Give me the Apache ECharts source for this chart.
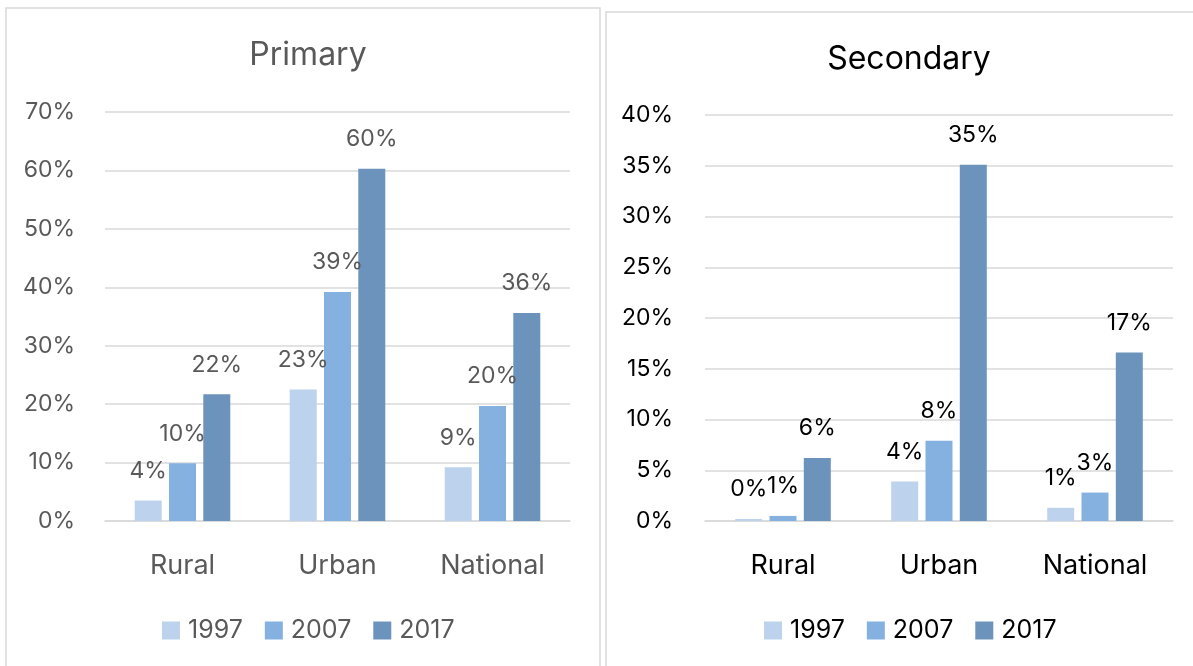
<!DOCTYPE html>
<html>
<head>
<meta charset="utf-8">
<script src="https://cdn.jsdelivr.net/npm/echarts@6/dist/echarts.min.js"></script>
<style>
html,body{margin:0;padding:0;background:#fff;}
#c{width:1193px;height:666px;}
</style>
</head>
<body>
<div id="c"></div>
<script>
var categories = ['Rural', 'Urban', 'National'];
var years = ['1997', '2007', '2017'];
var primary1997 = [3.5, 22.5, 9.2];
var primary2007 = [9.9, 39.2, 19.7];
var primary2017 = [21.7, 60.3, 35.6];
var secondary1997 = [0.2, 3.9, 1.3];
var secondary2007 = [0.5, 7.9, 2.8];
var secondary2017 = [6.2, 35.1, 16.6];
var colors = ['#bdd2ec', '#85b1e1', '#6c93bb'];

var FONT = 'Inter';
var greyText = '#595959';
var blackText = '#000000';

function mkSeries(name, data, idx, textColor) {
  return {
    type: 'bar', name: name, data: data,
    xAxisIndex: idx, yAxisIndex: idx,
    barWidth: 27, barGap: '27%',
    itemStyle: {color: colors[years.indexOf(name)]},
    label: {
      show: true, position: 'top', distance: 18,
      fontFamily: FONT, fontSize: 23, color: textColor,
      formatter: function (p) { return Math.round(p.value) + '%'; }
    }
  };
}

var chart = echarts.init(document.getElementById('c'), null, {renderer: 'canvas'});
var axisLineColor = '#d9d9d9';
chart.setOption({
  animation: false,
  color: colors,
  graphic: [
    {type: 'rect', shape: {x: 6, y: 8, width: 594, height: 720}, style: {fill: 'none', stroke: '#d9d9d9', lineWidth: 1.5}},
    {type: 'rect', shape: {x: 606, y: 12, width: 620, height: 720}, style: {fill: 'none', stroke: '#d9d9d9', lineWidth: 1.5}}
  ],
  title: [
    {text: 'Primary', left: 303, top: 34, textAlign: 'center',
     textStyle: {fontFamily: FONT, fontSize: 32, fontWeight: 'normal', color: greyText}},
    {text: 'Secondary', left: 904, top: 38, textAlign: 'center',
     textStyle: {fontFamily: FONT, fontSize: 32, fontWeight: 'normal', color: blackText}}
  ],
  legend: [
    {data: years.map(function (y) { return {name: y}; }), left: 162, top: 618, padding: 0, itemWidth: 18, itemHeight: 18, itemGap: 22,
     icon: 'rect', selectedMode: false,
     textStyle: {fontFamily: FONT, fontSize: 25, color: greyText, padding: [0, 0, 0, 3]}},
    {data: years.map(function (y) { return {name: y}; }), left: 764, top: 618, padding: 0, itemWidth: 18, itemHeight: 18, itemGap: 22,
     icon: 'rect', selectedMode: false,
     textStyle: {fontFamily: FONT, fontSize: 25, color: blackText, padding: [0, 0, 0, 3]}}
  ],
  grid: [
    {left: 105, right: 623, top: 112, bottom: 145},
    {left: 705, right: 20, top: 115, bottom: 145}
  ],
  xAxis: [
    {type: 'category', gridIndex: 0, data: categories,
     axisLine: {lineStyle: {color: axisLineColor, width: 1.5}}, axisTick: {show: false},
     axisLabel: {fontFamily: FONT, fontSize: 27, color: greyText, margin: 31}},
    {type: 'category', gridIndex: 1, data: categories,
     axisLine: {lineStyle: {color: axisLineColor, width: 1.5}}, axisTick: {show: false},
     axisLabel: {fontFamily: FONT, fontSize: 27, color: blackText, margin: 31}}
  ],
  yAxis: [
    {type: 'value', gridIndex: 0, min: 0, max: 70, interval: 10,
     axisLine: {show: false}, axisTick: {show: false},
     splitLine: {lineStyle: {color: axisLineColor, width: 1.5}},
     axisLabel: {fontFamily: FONT, fontSize: 23, color: greyText, margin: 30, formatter: '{value}%'}},
    {type: 'value', gridIndex: 1, min: 0, max: 40, interval: 5,
     axisLine: {show: false}, axisTick: {show: false},
     splitLine: {lineStyle: {color: axisLineColor, width: 1.5}},
     axisLabel: {fontFamily: FONT, fontSize: 23, color: blackText, margin: 32, formatter: '{value}%'}}
  ],
  series: [
    mkSeries('1997', primary1997, 0, greyText),
    mkSeries('2007', primary2007, 0, greyText),
    mkSeries('2017', primary2017, 0, greyText),
    mkSeries('1997', secondary1997, 1, blackText),
    mkSeries('2007', secondary2007, 1, blackText),
    mkSeries('2017', secondary2017, 1, blackText)
  ]
});
</script>
</body>
</html>
